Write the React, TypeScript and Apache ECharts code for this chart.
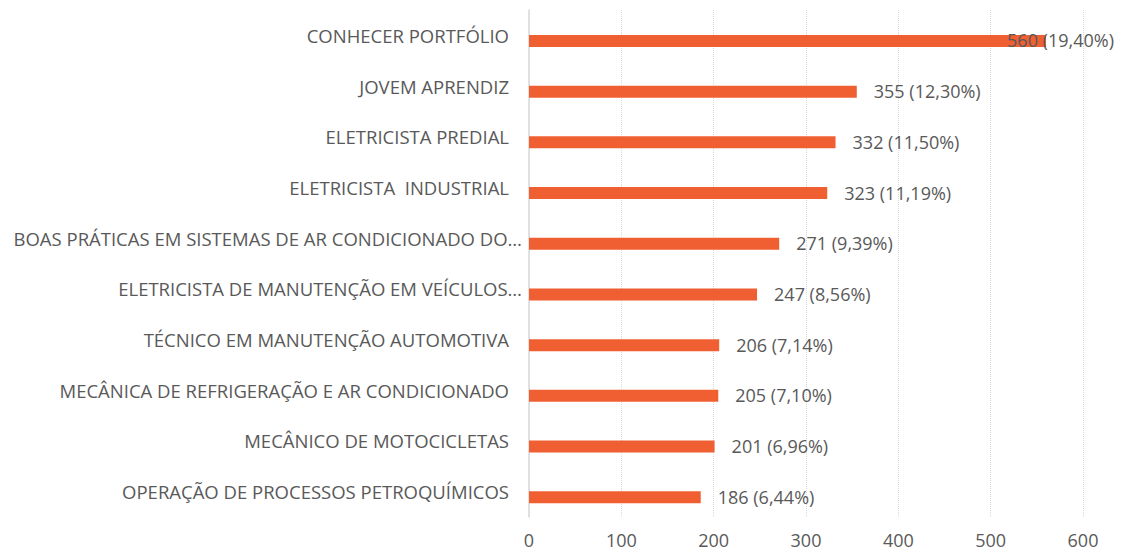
import React, { useEffect, useRef } from "react";
import * as echarts from "echarts";

const categories = [
  "CONHECER PORTFÓLIO",
  "JOVEM APRENDIZ",
  "ELETRICISTA PREDIAL",
  "ELETRICISTA  INDUSTRIAL",
  "BOAS PRÁTICAS EM SISTEMAS DE AR CONDICIONADO DO…",
  "ELETRICISTA DE MANUTENÇÃO EM VEÍCULOS…",
  "TÉCNICO EM MANUTENÇÃO AUTOMOTIVA",
  "MECÂNICA DE REFRIGERAÇÃO E AR CONDICIONADO",
  "MECÂNICO DE MOTOCICLETAS",
  "OPERAÇÃO DE PROCESSOS PETROQUÍMICOS",
];
const values = [560, 355, 332, 323, 271, 247, 206, 205, 201, 186];
const percents = [19.4, 12.3, 11.5, 11.19, 9.39, 8.56, 7.14, 7.1, 6.96, 6.44];
const xTicks = [0, 100, 200, 300, 400, 500, 600];

const FONT = "'Open Sans', sans-serif";
const TEXT = "#595959";
const BAR = "#F05F32";
const LINE = "#D9D9D9";
const FS = 18.5;
const FS_VAL = 18;
const FS_TICK = 18;

export default function App() {
  const ref = useRef<HTMLDivElement>(null);
  useEffect(() => {
    if (!ref.current) return;
    const chart = echarts.init(ref.current, null, { renderer: "svg" });
    const fmtPct = (p: number) => p.toFixed(2).replace(".", ",") + "%";
    chart.setOption({
      animation: false,
      textStyle: { fontFamily: FONT },
      grid: [
        { left: 529, right: 40, top: 10, bottom: 35 },
        { left: 529, right: 40, top: 15.6, bottom: 29.4 },
      ],
      xAxis: [
        {
          gridIndex: 0,
          type: "value",
          min: xTicks[0],
          max: xTicks[xTicks.length - 1],
          interval: 100,
          axisLine: { show: false },
          axisTick: { show: false },
          splitLine: { show: true, lineStyle: { type: "dotted", color: LINE, width: 1 } },
          axisLabel: {
            color: TEXT,
            fontSize: FS_TICK,
            fontFamily: FONT,
            margin: 16,
            lineHeight: 14,
          },
        },
        {
          gridIndex: 1,
          type: "value",
          min: xTicks[0],
          max: xTicks[xTicks.length - 1],
          show: false,
        },
      ],
      yAxis: [
        {
          gridIndex: 0,
          type: "category",
          data: categories,
          inverse: true,
          axisLine: { show: true, lineStyle: { color: LINE, width: 1.5 } },
          axisTick: { show: false },
          splitLine: { show: false },
          axisLabel: {
            margin: 7,
            formatter: (v: string) => (v.endsWith("…") ? `{e|${v}}` : `{n|${v}}`),
            rich: {
              n: { color: TEXT, fontSize: FS, fontFamily: FONT, padding: [0, 13, 0, 0] },
              e: { color: TEXT, fontSize: FS, fontFamily: FONT },
            },
          },
        },
        {
          gridIndex: 1,
          type: "category",
          data: categories,
          inverse: true,
          show: false,
        },
      ],
      series: [
        {
          type: "bar",
          xAxisIndex: 1,
          yAxisIndex: 1,
          barWidth: 12,
          itemStyle: { color: BAR },
          data: values.map((v, i) =>
            i === 0 ? { value: v, label: { offset: [-56, -0.5] } } : { value: v }
          ),
          label: {
            show: true,
            position: "right",
            distance: 17,
            offset: [0, -0.5],
            color: TEXT,
            fontSize: FS_VAL,
            fontFamily: FONT,
            formatter: (p: any) => `${p.value} (${fmtPct(percents[p.dataIndex])})`,
          },
        },
      ],
    });
    return () => chart.dispose();
  }, []);
  return (
    <div
      ref={ref}
      style={{ position: "fixed", left: 0, top: 0, width: 1123, height: 552, background: "#fff" }}
    />
  );
}
